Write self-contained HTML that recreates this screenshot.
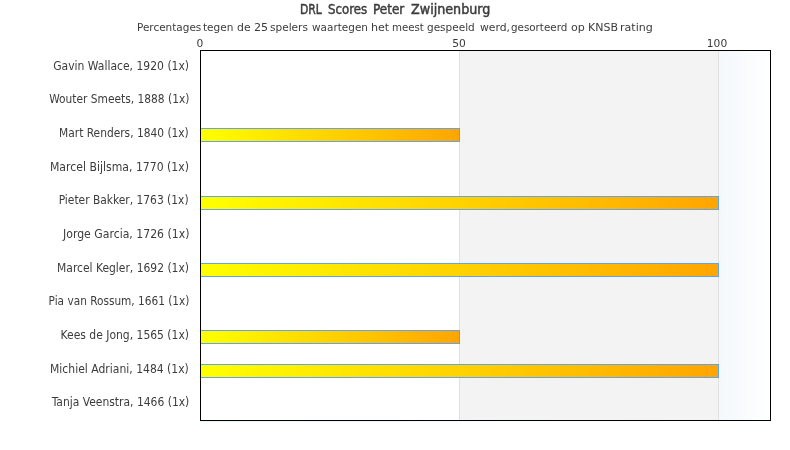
<!DOCTYPE html>
<html>
<head>
<meta charset="utf-8">
<style>
html,body{margin:0;padding:0;background:#fff;}
body{width:790px;height:450px;position:relative;overflow:hidden;font-family:"DejaVu Sans Condensed","DejaVu Sans","Liberation Sans",sans-serif;font-stretch:condensed;color:#3c3c3c;}
.t,.tick,.lab{filter:grayscale(1);}
.t{position:absolute;white-space:nowrap;line-height:1;}
#title{position:absolute;left:0;top:3px;width:790px;height:18px;font-size:13.7px;line-height:1;font-weight:normal;-webkit-text-stroke:0.45px #3c3c3c;}
.tw{position:absolute;top:0;white-space:nowrap;transform-origin:0 50%;filter:grayscale(1);}

#sub{position:absolute;left:0;top:22px;width:790px;height:16px;font-size:11px;line-height:1;}
.sw{position:absolute;top:0;white-space:nowrap;transform:scaleX(1.07);transform-origin:0 50%;filter:grayscale(1);}
.tick{position:absolute;top:38px;width:40px;margin-left:-20px;text-align:center;font-size:11px;line-height:1;transform:scaleX(1.08);}
.lab{position:absolute;right:601px;transform-origin:100% 50%;font-size:11.95px;line-height:1;text-align:right;white-space:nowrap;}
#plot{position:absolute;left:200px;top:50px;width:569px;height:369px;border:1px solid #000;background:#fff;}
#band{position:absolute;left:259px;top:0;width:258px;height:369px;background:#f3f3f3;}
#g50{position:absolute;left:258px;top:0;width:1px;height:369px;background:#e1e1e1;}
#g100{position:absolute;left:517px;top:0;width:1px;height:369px;background:#e1e1e1;}
#over{position:absolute;left:518px;top:0;width:51px;height:369px;background:linear-gradient(to right,#f3f8fc,#ffffff);}
#under{position:absolute;left:200px;top:421px;width:571px;height:1px;background:linear-gradient(to right,#e2f5fc,#f4fbfe 50%,#fff 85%);}
.bar{position:absolute;left:201px;height:12px;border:1px solid #5fa4f2;border-left:none;background:linear-gradient(to right,#ffff00,#ffa500);}
</style>
</head>
<body>
<div id="title"><span class="tw" style="left:300.4px;transform:scaleX(0.88)">DRL</span> <span class="tw" style="left:327.5px;transform:scaleX(0.958)">Scores</span> <span class="tw" style="left:373px;transform:scaleX(0.979)">Peter</span> <span class="tw" style="left:410.6px;transform:scaleX(1.034)">Zwijnenburg</span></div>
<div id="sub"><span class="sw" style="left:137.0px;transform:scaleX(1.058)">Percentages</span> <span class="sw" style="left:202.8px;transform:scaleX(1.061)">tegen</span> <span class="sw" style="left:237.4px;transform:scaleX(1.100)">de</span> <span class="sw" style="left:253.6px;transform:scaleX(1.120)">25</span> <span class="sw" style="left:270.4px;transform:scaleX(1.065)">spelers</span> <span class="sw" style="left:312.0px;transform:scaleX(1.058)">waartegen</span> <span class="sw" style="left:370.6px;transform:scaleX(1.120)">het</span> <span class="sw" style="left:391.7px;transform:scaleX(1.033)">meest</span> <span class="sw" style="left:427.4px;transform:scaleX(1.060)">gespeeld</span> <span class="sw" style="left:479.5px;transform:scaleX(1.092)">werd,</span> <span class="sw" style="left:510.8px;transform:scaleX(1.044)">gesorteerd</span> <span class="sw" style="left:570.8px;transform:scaleX(1.120)">op</span> <span class="sw" style="left:587.5px;transform:scaleX(1.112)">KNSB</span> <span class="sw" style="left:619.7px;transform:scaleX(1.120)">rating</span></div>
<div class="tick" style="left:199.5px">0</div>
<div class="tick" style="left:458.5px">50</div>
<div class="tick" style="left:717px">100</div>

<div id="plot">
  <div id="band"></div>
  <div id="g50"></div>
  <div id="g100"></div>
  <div id="over"></div>
</div>
<div id="under"></div>

<div class="bar" style="top:128px;width:258px"></div>
<div class="bar" style="top:196px;width:517px"></div>
<div class="bar" style="top:263px;width:517px"></div>
<div class="bar" style="top:330px;width:258px"></div>
<div class="bar" style="top:364px;width:517px"></div>

<div class="lab" style="top:61px;transform:scaleX(1.006)">Gavin Wallace, 1920 (1x)</div>
<div class="lab" style="top:94px;transform:scaleX(0.991)">Wouter Smeets, 1888 (1x)</div>
<div class="lab" style="top:128px;transform:scaleX(0.992)">Mart Renders, 1840 (1x)</div>
<div class="lab" style="top:162px;transform:scaleX(1.015)">Marcel Bijlsma, 1770 (1x)</div>
<div class="lab" style="top:195px;transform:scaleX(0.995)">Pieter Bakker, 1763 (1x)</div>
<div class="lab" style="top:229px;transform:scaleX(1.016)">Jorge Garcia, 1726 (1x)</div>
<div class="lab" style="top:263px;transform:scaleX(1.0)">Marcel Kegler, 1692 (1x)</div>
<div class="lab" style="top:296px;transform:scaleX(0.982)">Pia van Rossum, 1661 (1x)</div>
<div class="lab" style="top:330px;transform:scaleX(1.003)">Kees de Jong, 1565 (1x)</div>
<div class="lab" style="top:364px;transform:scaleX(1.007)">Michiel Adriani, 1484 (1x)</div>
<div class="lab" style="top:397px;transform:scaleX(1.002)">Tanja Veenstra, 1466 (1x)</div>
</body>
</html>
